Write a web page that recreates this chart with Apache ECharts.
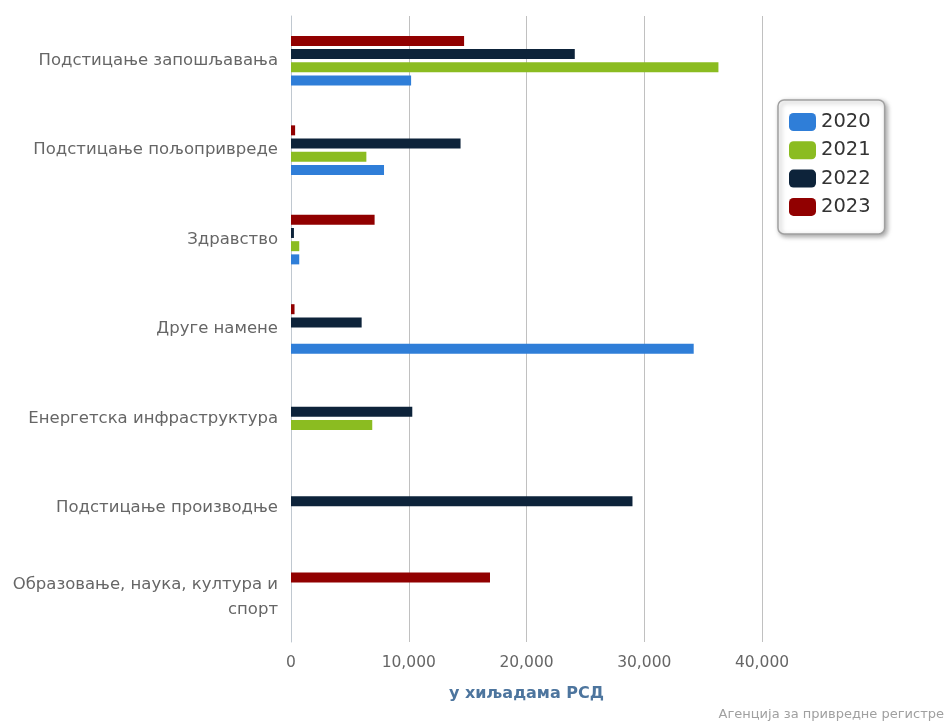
<!DOCTYPE html>
<html>
<head>
<meta charset="utf-8">
<script src="https://cdn.jsdelivr.net/npm/echarts@6/dist/echarts.min.js"></script>
<style>html,body{margin:0;padding:0;background:#fff}#c{width:952px;height:726px}</style>
</head>
<body>
<div id="c"></div>
<script>
const categories = [
  'Подстицање запошљавања',
  'Подстицање пољопривреде',
  'Здравство',
  'Друге намене',
  'Енергетска инфраструктура',
  'Подстицање производње',
  'Образовање, наука, култура и спорт'
];
const years = ['2020', '2021', '2022', '2023'];
const values2020 = [10200, 7900, 700, 34200, null, null, null];
const values2021 = [36300, 6400, 700, null, 6900, null, null];
const values2022 = [24100, 14400, 250, 6000, 10300, 29000, null];
const values2023 = [14700, 350, 7100, 300, null, null, 16900];
const xTicks = [0, 10000, 20000, 30000, 40000];
const axisTitle = 'у хиљадама РСД';
const credit = 'Агенција за привредне регистре';

const colors = ['#2f7ed8', '#8bbc21', '#0d233a', '#910000'];
const seriesValues = [values2020, values2021, values2022, values2023];
const font = 'DejaVu Sans';

// bars are placed top-to-bottom in series order, so draw 2023 first
const order = [3, 2, 1, 0];

// wrap long labels at the last space so that only the final word moves to line 2
function wrapLabel(v) {
  if (v.length <= 28) return v;
  const k = v.lastIndexOf(' ');
  return v.slice(0, k) + '\n' + v.slice(k + 1);
}

const chart = echarts.init(document.getElementById('c'), null, {renderer: 'canvas'});
chart.setOption({
  animation: false,
  textStyle: {fontFamily: font},
  grid: {left: 291, right: 190, top: 16, bottom: 84, containLabel: false},
  legend: {
    orient: 'vertical',
    left: 778, top: 100,
    data: years,
    itemWidth: 27, itemHeight: 18, itemGap: 8.3,
    padding: [12, 14, 17, 11],
    icon: 'roundRect',
    backgroundColor: '#fff',
    borderColor: '#a0a0a0', borderWidth: 1.5, borderRadius: 6,
    shadowBlur: 5, shadowColor: 'rgba(0,0,0,0.35)', shadowOffsetX: 2, shadowOffsetY: 2,
    textStyle: {fontFamily: font, fontSize: 19.5, color: '#333'}
  },
  xAxis: {
    type: 'value', min: xTicks[0], max: xTicks[xTicks.length - 1], interval: 10000,
    name: axisTitle, nameLocation: 'middle', nameGap: 44,
    nameTextStyle: {fontFamily: font, fontSize: 16, fontWeight: 'bold', color: '#4d759e'},
    axisLine: {show: false}, axisTick: {show: false},
    axisLabel: {fontFamily: font, fontSize: 15.5, color: '#666', margin: 13,
      formatter: v => v.toLocaleString('en-US')},
    splitLine: {lineStyle: {color: '#c0c0c0', width: 1}}
  },
  yAxis: {
    type: 'category', data: categories, inverse: true,
    axisLine: {lineStyle: {color: '#c0c8d0'}},
    axisTick: {lineStyle: {color: '#c0c8d0'}, length: 5},
    axisLabel: {fontFamily: font, fontSize: 16.5, color: '#666', margin: 13,
      lineHeight: 25, align: 'right', formatter: wrapLabel}
  },
  series: order.map(i => ({
    name: years[i], type: 'bar', data: seriesValues[i],
    barWidth: 10, barGap: '32%',
    itemStyle: {color: colors[i]}
  })),
  graphic: [{
    type: 'text', right: 8, bottom: 5,
    style: {text: credit, fontFamily: font, fontSize: 13, fill: '#a0a0a0'}
  }]
});
</script>
</body>
</html>
